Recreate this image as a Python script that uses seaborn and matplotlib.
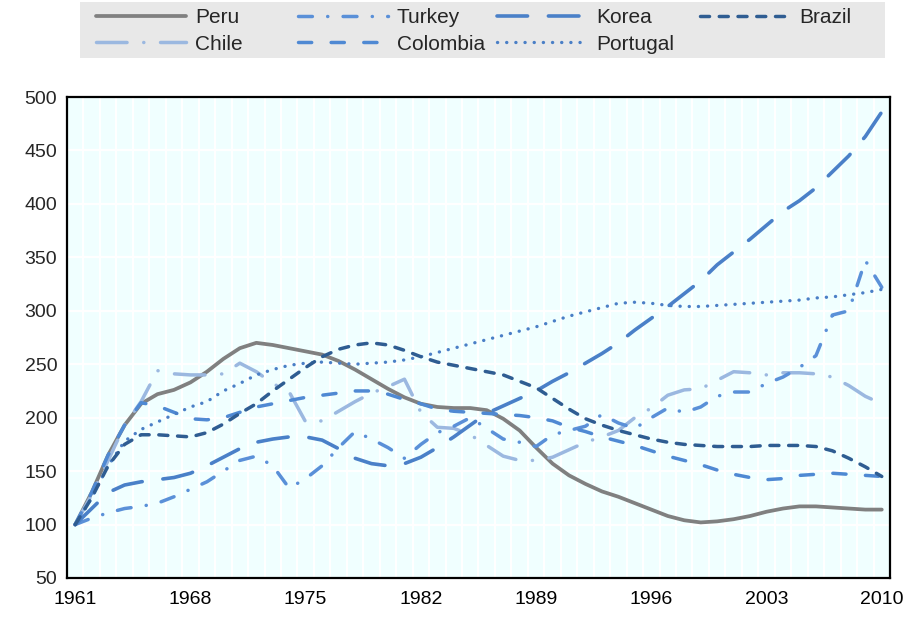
import numpy as np
import pandas as pd
import matplotlib
matplotlib.use("Agg")
import matplotlib.pyplot as plt
import seaborn as sns
from matplotlib.patches import Rectangle

years = list(range(1961, 2011))

peru = [100, 130, 165, 193, 213, 222, 226, 233, 243, 255,
        265, 270, 268, 265, 262, 259, 253, 245, 236, 227,
        219, 213, 210, 209, 209, 207, 199, 188, 172, 157,
        146, 138, 131, 126, 120, 114, 108, 104, 102, 103,
        105, 108, 112, 115, 117, 117, 116, 115, 114, 114]
chile = [100, 128, 160, 193, 215, 244, 241, 240, 240, 241,
         251, 243, 232, 224, 196, 197, 206, 215, 223, 229,
         236, 205, 191, 190, 184, 174, 164, 160, 160, 163,
         170, 177, 182, 188, 200, 209, 221, 226, 227, 235,
         243, 242, 240, 242, 242, 241, 238, 230, 220, 213]
turkey = [100, 106, 111, 115, 117, 120, 126, 133, 140, 150,
          160, 164, 155, 134, 143, 155, 172, 187, 180, 172,
          162, 175, 186, 192, 200, 190, 180, 177, 173, 184,
          188, 192, 203, 195, 190, 200, 209, 205, 210, 220,
          224, 224, 232, 238, 247, 258, 296, 300, 347, 322]
colombia = [100, 130, 165, 193, 214, 211, 205, 199, 198, 200,
            205, 210, 213, 216, 219, 221, 223, 225, 225, 222,
            217, 213, 208, 206, 205, 204, 203, 202, 200, 197,
            191, 187, 182, 178, 174, 169, 164, 160, 156, 151,
            147, 144, 142, 143, 146, 147, 148, 147, 146, 145]
korea = [100, 115, 130, 137, 140, 142, 144, 148, 155, 163,
         171, 177, 180, 182, 182, 179, 171, 162, 157, 155,
         157, 163, 172, 182, 193, 204, 211, 218, 225, 234,
         242, 251, 260, 270, 282, 293, 304, 316, 328, 343,
         355, 367, 380, 393, 403, 415, 430, 445, 463, 486]
portugal = [100, 125, 155, 178, 189, 196, 203, 210, 215, 225,
            232, 240, 245, 249, 251, 252, 251, 250, 251, 252,
            254, 257, 261, 265, 269, 273, 277, 281, 285, 290,
            295, 299, 303, 307, 308, 307, 305, 304, 304, 305,
            306, 307, 308, 309, 310, 312, 313, 315, 317, 320]
brazil = [100, 125, 155, 175, 184, 184, 183, 182, 186, 194,
          204, 213, 225, 236, 247, 257, 264, 268, 270, 268,
          263, 257, 252, 249, 246, 243, 240, 234, 228, 218,
          208, 199, 193, 188, 184, 180, 177, 175, 174, 173,
          173, 173, 174, 174, 174, 173, 169, 162, 154, 145]

countries = ["Peru", "Chile", "Turkey", "Colombia", "Korea", "Portugal", "Brazil"]
series = [peru, chile, turkey, colombia, korea, portugal, brazil]
x_labels = [1961, 1968, 1975, 1982, 1989, 1996, 2003, 2010]
y_ticks = [50, 100, 150, 200, 250, 300, 350, 400, 450, 500]

colors = {"Peru": "#808080", "Chile": "#9BB8E0", "Turkey": "#5A90D8",
          "Colombia": "#4F89D3", "Korea": "#4A80C8", "Portugal": "#4A7FC6",
          "Brazil": "#2F5D92"}
dash_pat = {"Peru": None,
            "Chile": (22, 12, 0.1, 12),
            "Turkey": (10, 11, 0.1, 11),
            "Colombia": (9.5, 14),
            "Korea": (22, 15),
            "Portugal": (0.1, 6.5),
            "Brazil": (6.5, 7)}
widths = {"Peru": 2.7, "Chile": 2.5, "Turkey": 2.5, "Colombia": 2.5,
          "Korea": 2.6, "Portugal": 2.4, "Brazil": 2.5}

sns.set_theme(style="white")
plt.rcParams["font.family"] = ["Liberation Sans", "DejaVu Sans"]
plt.rcParams["lines.scale_dashes"] = False

df = pd.DataFrame({"Year": np.tile(years, len(countries)),
                   "Value": np.concatenate([np.array(s, float) for s in series]),
                   "Country": np.repeat(countries, len(years))})

fig = plt.figure(figsize=(9.13, 6.2), dpi=100)
ax = fig.add_axes([67 / 913, 1 - 578 / 620, (890 - 67) / 913, (578 - 97) / 620])
ax.set_facecolor("#F0FFFF")

lines = {}
for c in countries:
    sub = df[df["Country"] == c]
    sns.lineplot(data=sub, x="Year", y="Value", ax=ax, color=colors[c],
                 linewidth=widths[c], label=c, legend=False)
    ln = ax.lines[-1]
    if dash_pat[c] is not None:
        ln.set_dashes(dash_pat[c])
        ln.set_dash_capstyle("round")
    else:
        ln.set_solid_capstyle("round")
    lines[c] = ln

if ax.get_legend() is not None:
    ax.get_legend().remove()

ax.set_xlim(1960.5, 2010.5)
ax.set_ylim(50, 500)
ax.set_yticks(y_ticks)
ax.set_xticks(x_labels)
ax.set_xticklabels([str(v) for v in x_labels])
ax.set_xticks(np.arange(1961.5, 2010.5, 1), minor=True)
ax.set_xlabel("")
ax.set_ylabel("")
ax.grid(False)
ax.grid(which="minor", axis="x", color="white", linewidth=1.5)
ax.grid(which="major", axis="y", color="white", linewidth=1.6)
ax.set_axisbelow(True)

ax.tick_params(axis="x", which="major", length=0, labelsize=14, pad=9, colors="black")
ax.tick_params(axis="x", which="minor", direction="in", length=5, width=1.5, color="black")
ax.tick_params(axis="y", which="major", direction="in", length=6, width=1.5,
               labelsize=14, pad=7, color="black")
for s in ax.spines.values():
    s.set_visible(True)
    s.set_color("black")
    s.set_linewidth(1.6)

fig.add_artist(Rectangle((80 / 913, 1 - 58 / 620), (885 - 80) / 913, 56 / 620,
                         transform=fig.transFigure, facecolor="#E8E8E8",
                         edgecolor="none", zorder=0))

col_groups = [["Peru", "Chile"], ["Turkey", "Colombia"], ["Korea", "Portugal"], ["Brazil"]]
col_x = [96, 298, 497, 700]
for grp, xp in zip(col_groups, col_x):
    leg = fig.legend([lines[c] for c in grp], grp, loc="upper left",
                     bbox_to_anchor=(xp / 913, 1 - 8 / 620), frameon=False,
                     fontsize=15, handlelength=4.3, handletextpad=0.45,
                     labelspacing=0.36, borderpad=0, borderaxespad=0)
    leg.set_zorder(2)

fig.savefig("out.png", dpi=100)
